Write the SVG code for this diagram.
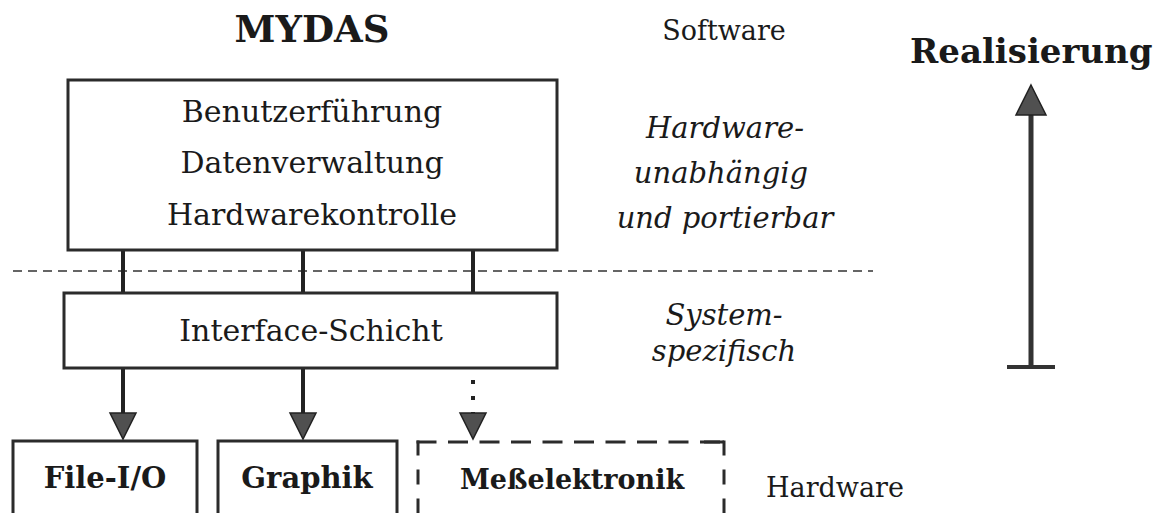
<svg xmlns="http://www.w3.org/2000/svg" width="1158" height="513" viewBox="0 0 1158 513">
  <style>
    .box { fill: #fff; stroke: #2b2b2b; stroke-width: 3; }
    .dtop { fill: none; stroke: #2b2b2b; stroke-width: 3; stroke-dasharray: 20 11.5; }
    .dside { fill: none; stroke: #2b2b2b; stroke-width: 3; stroke-dasharray: 15 14; }
    .t { font-family: "DejaVu Serif", "Liberation Serif", serif; fill: #1a1a1a; }
    .b { font-weight: bold; }
    .i { font-style: italic; }
    .c { text-anchor: middle; }
    .link { stroke: #222; stroke-width: 4; fill: none; }
    .dot { stroke: #222; stroke-width: 4; fill: none; stroke-dasharray: 4 12; }
    .sep { stroke: #333; stroke-width: 1.6; stroke-dasharray: 9 6; fill: none; }
    .head { fill: #505050; stroke: #222; stroke-width: 1.5; stroke-linejoin: miter; }
  </style>

  <!-- titles and side labels -->
  <g id="labels">
    <text class="t b c" x="312" y="42" font-size="37">MYDAS</text>
    <text class="t c" x="724" y="40" font-size="27">Software</text>
    <text class="t b" x="910" y="63" font-size="34">Realisierung</text>
    <text class="t i c" x="725" y="138" font-size="29">Hardware-</text>
    <text class="t i c" x="721" y="183" font-size="29">unabhängig</text>
    <text class="t i c" x="725" y="228" font-size="29">und portierbar</text>
    <text class="t i c" x="724" y="325" font-size="29">System-</text>
    <text class="t i c" x="724" y="361" font-size="29">spezifisch</text>
    <text class="t" x="766" y="497" font-size="27">Hardware</text>
  </g>

  <!-- separator line -->
  <g id="separator">
    <line class="sep" x1="13" y1="271" x2="873" y2="271"/>
  </g>

  <!-- connectors -->
  <g id="connectors">
    <line class="link" x1="123" y1="250" x2="123" y2="293"/>
    <line class="link" x1="303" y1="250" x2="303" y2="293"/>
    <line class="link" x1="473" y1="250" x2="473" y2="293"/>
    <line class="link" x1="123" y1="368" x2="123" y2="414"/>
    <polygon class="head" points="110,413 136,413 123,439"/>
    <line class="link" x1="303" y1="368" x2="303" y2="414"/>
    <polygon class="head" points="290,413 316,413 303,439"/>
    <line class="dot" x1="473" y1="380" x2="473" y2="413"/>
    <polygon class="head" points="460,413 486,413 473,439"/>
  </g>

  <!-- Realisierung arrow -->
  <g id="realisierung-arrow">
    <line x1="1031" y1="112" x2="1031" y2="367" stroke="#333" stroke-width="5"/>
    <polygon class="head" points="1031,85 1046,115 1016,115"/>
    <line x1="1007" y1="367" x2="1055" y2="367" stroke="#333" stroke-width="4"/>
  </g>

  <g id="node-mydas-core">
    <rect class="box" x="68" y="80" width="489" height="170"/>
    <text class="t c" x="312" y="122" font-size="30">Benutzerführung</text>
    <text class="t c" x="312" y="173" font-size="30">Datenverwaltung</text>
    <text class="t c" x="312" y="225" font-size="30">Hardwarekontrolle</text>
  </g>

  <g id="node-interface">
    <rect class="box" x="64" y="293" width="493" height="75"/>
    <text class="t c" x="311" y="341" font-size="30">Interface-Schicht</text>
  </g>

  <g id="node-file-io">
    <rect class="box" x="13" y="441" width="184" height="100"/>
    <text class="t b c" x="105" y="488" font-size="29">File-I/O</text>
  </g>

  <g id="node-graphik">
    <rect class="box" x="218" y="441" width="179" height="100"/>
    <text class="t b c" x="307" y="488" font-size="29">Graphik</text>
  </g>

  <g id="node-messelektronik">
    <path class="dtop" d="M416.5,442 H725.5"/>
    <path class="dtop" d="M704,442 H725.5"/>
    <path class="dside" d="M418,440.5 V540"/>
    <path class="dside" d="M724,440.5 V540"/>
    <text class="t b c" x="572" y="489" font-size="27">Meßelektronik</text>
  </g>
</svg>
